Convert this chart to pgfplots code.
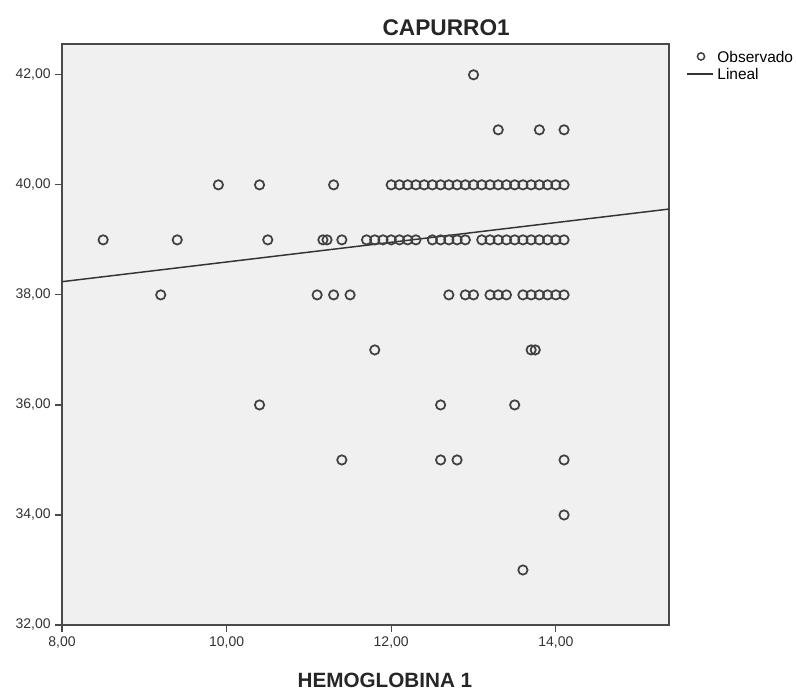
\documentclass[border=0pt]{standalone}
\usepackage{fontspec}
\setmainfont{Liberation Sans}
\usepackage{pgfplots}
\pgfplotsset{compat=1.18}
\definecolor{bg}{HTML}{F0F0F0}
\definecolor{mk}{HTML}{404040}
\definecolor{fr}{HTML}{4A4A4A}
\pgfplotsset{
  scatimg/.style={legend image code/.code={\draw[##1, mark size=2.7pt, line width=1.1pt] plot coordinates {(10.25pt,0.3pt)};}},
  lineimg/.style={legend image code/.code={\draw[##1] (0pt,-0.5pt) -- (19.5pt,-0.5pt);}},
}
\pgfplotstableread{
x y
13.0 42
13.3 41
13.8 41
14.1 41
9.9 40
10.4 40
11.3 40
12.0 40
12.1 40
12.2 40
12.3 40
12.4 40
12.5 40
12.6 40
12.7 40
12.8 40
12.9 40
13.0 40
13.1 40
13.2 40
13.3 40
13.4 40
13.5 40
13.6 40
13.7 40
13.8 40
13.9 40
14.0 40
14.1 40
8.5 39
9.4 39
10.5 39
11.17 39
11.22 39
11.4 39
11.7 39
11.8 39
11.9 39
12.0 39
12.1 39
12.2 39
12.3 39
12.5 39
12.6 39
12.7 39
12.8 39
12.9 39
13.1 39
13.2 39
13.3 39
13.4 39
13.5 39
13.6 39
13.7 39
13.8 39
13.9 39
14.0 39
14.1 39
9.2 38
11.1 38
11.3 38
11.5 38
12.7 38
12.9 38
13.0 38
13.2 38
13.3 38
13.4 38
13.6 38
13.7 38
13.8 38
13.9 38
14.0 38
14.1 38
11.8 37
13.7 37
13.75 37
10.4 36
12.6 36
13.5 36
11.4 35
12.6 35
12.8 35
14.1 35
14.1 34
13.6 33
}\datatable
\begin{document}
\begin{tikzpicture}
\begin{axis}[
  scale only axis, width=455.25pt, height=435.75pt,
  xmin=8, xmax=15.375, ymin=32, ymax=42.56,
  clip=false,
  axis background/.style={fill=bg},
  axis line style={fr, line width=1.2pt},
  xtick={8,10,12,14}, ytick={32,34,36,38,40,42},
  xtick pos=bottom, ytick pos=left, tick align=outside,
  major tick length=5pt,
  tick style={fr, line width=0.9pt},
  ticklabel style={font=\fontsize{10.5}{12}\selectfont, text=black!80},
  x tick label style={/pgf/number format/.cd, fixed, fixed zerofill, precision=2, use comma, assume math mode=true},
  y tick label style={/pgf/number format/.cd, fixed, fixed zerofill, precision=2, use comma, assume math mode=true},
  legend style={at={(rel axis cs:1,1)}, anchor=north west, xshift=13pt, yshift=-5.25pt,
    draw=none, fill=none, inner sep=0pt, row sep=4pt, column sep=2.5pt,
    font=\fontsize{11.6}{12}\selectfont,
    nodes={inner sep=0pt, text depth=0pt}},
  legend cell align=left,
]
\addplot[only marks, mark=o, mark size=3.5pt, mk, line width=1.3pt, scatimg]
  table[x=x, y=y] {\datatable};
\addlegendentry{Observado}
\addplot[black!80, line width=1.1pt, lineimg]
  coordinates {(8,38.24) (15.375,39.56)};
\addlegendentry{Lineal}
\node[font=\fontsize{17}{20}\selectfont\bfseries, text=black!85, yshift=12pt] at (rel axis cs:0.633,1) {CAPURRO1};
\node[font=\fontsize{15.5}{18}\selectfont\bfseries, text=black!85, anchor=base, yshift=-46.5pt] at (rel axis cs:0.532,0) {HEMOGLOBINA 1};
\end{axis}
\path ([xshift=-46.5pt,yshift=-48.75pt]current axis.south west) rectangle ([xshift=95.25pt,yshift=33pt]current axis.north east);
\end{tikzpicture}
\end{document}
